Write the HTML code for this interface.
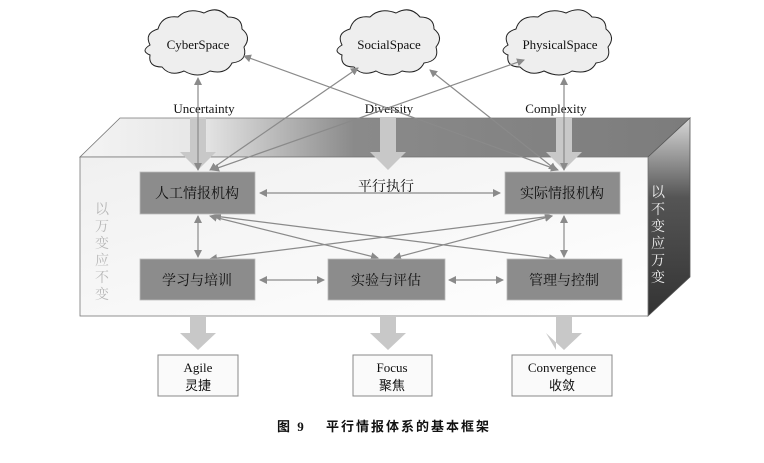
<!DOCTYPE html>
<html><head><meta charset="utf-8"><style>
body{margin:0;background:#fff;}
svg text{font-family:"Liberation Serif","Noto Serif CJK SC",serif;}
.cn{font-family:"Liberation Serif","Noto Sans CJK SC",sans-serif;}
</style></head><body>
<svg width="764" height="458" viewBox="0 0 764 458" xmlns="http://www.w3.org/2000/svg">
<defs>
<linearGradient id="top" x1="0" y1="0" x2="1" y2="0">
<stop offset="0" stop-color="#f4f4f4"/><stop offset="0.2" stop-color="#e6e6e6"/><stop offset="0.45" stop-color="#8a8a8a"/><stop offset="1" stop-color="#7c7c7c"/>
</linearGradient>
<linearGradient id="right" x1="0" y1="0" x2="0" y2="1">
<stop offset="0" stop-color="#d8d8d8"/><stop offset="0.4" stop-color="#555"/><stop offset="1" stop-color="#333"/>
</linearGradient>
<linearGradient id="front" x1="0" y1="0" x2="1" y2="1">
<stop offset="0" stop-color="#f0f0f0"/><stop offset="1" stop-color="#ffffff"/>
</linearGradient>
<marker id="ah" markerWidth="8" markerHeight="8" refX="7" refY="4" orient="auto-start-reverse" markerUnits="userSpaceOnUse"><path d="M0,0 L8,4 L0,8 z" fill="#8a8a8a"/></marker>
</defs>
<!-- box -->
<polygon points="120,118 690,118 648,157 80,157" fill="url(#top)" stroke="#777" stroke-width="0.8"/>
<polygon points="648,157 690,118 690,277 648,316" fill="url(#right)" stroke="#555" stroke-width="0.8"/>
<rect x="80" y="157" width="568" height="159" fill="url(#front)" stroke="#777" stroke-width="0.8"/>
<!-- big arrows -->
<g fill="#c8c8c8">
<polygon points="190,118 206,118 206,152 216,152 198,170 180,152 190,152"/>
<polygon points="380,118 396,118 396,152 406,152 388,170 370,152 380,152"/>
<polygon points="556,118 572,118 572,152 582,152 564,170 546,152 556,152"/>
<polygon points="190,316 206,316 206,333 216,333 198,350 180,333 190,333"/>
<polygon points="380,316 396,316 396,333 406,333 388,350 370,333 380,333"/>
<polygon points="556,316 572,316 572,333 582,333 564,350 546,333 556,350"/>
</g>
<!-- clouds -->
<g fill="#eeeeee" stroke="#222" stroke-width="1">
<path id="c1" d="M150,45 q-6,-12 8,-16 q4,-14 20,-12 q10,-10 26,-4 q14,-8 24,4 q14,0 14,12 q10,8 2,18 q4,14 -12,16 q-6,12 -22,8 q-12,8 -26,0 q-14,6 -22,-4 q-14,0 -12,-12 q-10,-4 0,-10z"/>
<path d="M342,45 q-6,-12 8,-16 q4,-14 20,-12 q10,-10 26,-4 q14,-8 24,4 q14,0 14,12 q10,8 2,18 q4,14 -12,16 q-6,12 -22,8 q-12,8 -26,0 q-14,6 -22,-4 q-14,0 -12,-12 q-10,-4 0,-10z"/>
<path d="M508,45 q-6,-12 8,-16 q4,-14 22,-12 q12,-10 28,-4 q16,-8 26,4 q14,0 14,12 q10,8 2,18 q4,14 -12,16 q-6,12 -24,8 q-12,8 -28,0 q-14,6 -24,-4 q-14,0 -12,-12 q-10,-4 0,-10z"/>
</g>
<g font-size="13" text-anchor="middle" fill="#111">
<text x="198" y="49">CyberSpace</text>
<text x="389" y="49">SocialSpace</text>
<text x="560" y="49">PhysicalSpace</text>
<text x="204" y="113">Uncertainty</text>
<text x="389" y="113">Diversity</text>
<text x="556" y="113">Complexity</text>
</g>
<!-- thin connectors -->
<g stroke="#8a8a8a" stroke-width="1.2" fill="none">
<line x1="198" y1="170" x2="198" y2="78" marker-start="url(#ah)" marker-end="url(#ah)"/>
<line x1="564" y1="170" x2="564" y2="78" marker-start="url(#ah)" marker-end="url(#ah)"/>
<line x1="210" y1="170" x2="358" y2="68" marker-start="url(#ah)" marker-end="url(#ah)"/>
<line x1="212" y1="170" x2="524" y2="60" marker-start="url(#ah)" marker-end="url(#ah)"/>
<line x1="558" y1="170" x2="244" y2="56" marker-start="url(#ah)" marker-end="url(#ah)"/>
<line x1="556" y1="170" x2="430" y2="70" marker-start="url(#ah)" marker-end="url(#ah)"/>
<line x1="260" y1="193" x2="500" y2="193" marker-start="url(#ah)" marker-end="url(#ah)"/>
<line x1="198" y1="216" x2="198" y2="257" marker-start="url(#ah)" marker-end="url(#ah)"/>
<line x1="564" y1="216" x2="564" y2="257" marker-start="url(#ah)" marker-end="url(#ah)"/>
<line x1="210" y1="216" x2="378" y2="258" marker-start="url(#ah)" marker-end="url(#ah)"/>
<line x1="214" y1="216" x2="556" y2="259" marker-start="url(#ah)" marker-end="url(#ah)"/>
<line x1="552" y1="216" x2="210" y2="259" marker-start="url(#ah)" marker-end="url(#ah)"/>
<line x1="552" y1="216" x2="394" y2="258" marker-start="url(#ah)" marker-end="url(#ah)"/>
<line x1="260" y1="280" x2="324" y2="280" marker-start="url(#ah)" marker-end="url(#ah)"/>
<line x1="449" y1="280" x2="503" y2="280" marker-start="url(#ah)" marker-end="url(#ah)"/>
</g>
<!-- inner boxes -->
<g fill="#8c8c8c" stroke="#bbb" stroke-width="0.8">
<rect x="140" y="172" width="115" height="42"/>
<rect x="505" y="172" width="115" height="42"/>
<rect x="140" y="259" width="115" height="41"/>
<rect x="328" y="259" width="117" height="41"/>
<rect x="507" y="259" width="115" height="41"/>
</g>
<g class="cn" font-size="14" text-anchor="middle" fill="#111">
<text x="197" y="198">人工情报机构</text>
<text x="562" y="198">实际情报机构</text>
<text x="197" y="285">学习与培训</text>
<text x="386" y="285">实验与评估</text>
<text x="564" y="285">管理与控制</text>
<text x="386" y="191">平行执行</text>
</g>
<g class="cn" font-size="14" fill="#b8b8b8" text-anchor="middle">
<text x="102" y="214">以</text><text x="102" y="231">万</text><text x="102" y="248">变</text><text x="102" y="265">应</text><text x="102" y="282">不</text><text x="102" y="299">变</text>
</g>
<g class="cn" font-size="14" fill="#eee" text-anchor="middle">
<text x="658" y="197">以</text><text x="658" y="214">不</text><text x="658" y="231">变</text><text x="658" y="248">应</text><text x="658" y="265">万</text><text x="658" y="282">变</text>
</g>
<!-- outputs -->
<g fill="#fafafa" stroke="#888" stroke-width="1">
<rect x="158" y="355" width="80" height="41"/>
<rect x="353" y="355" width="79" height="41"/>
<rect x="512" y="355" width="100" height="41"/>
</g>
<g font-size="13" text-anchor="middle" fill="#111">
<text x="198" y="372">Agile</text><text class="cn" x="198" y="390">灵捷</text>
<text x="392" y="372">Focus</text><text class="cn" x="392" y="390">聚焦</text>
<text x="562" y="372">Convergence</text><text class="cn" x="562" y="390">收敛</text>
</g>
<text class="cn" x="384" y="431" font-size="13" font-weight="bold" text-anchor="middle" letter-spacing="2" fill="#111">图 9　 平行情报体系的基本框架</text>
</svg>
</body></html>
